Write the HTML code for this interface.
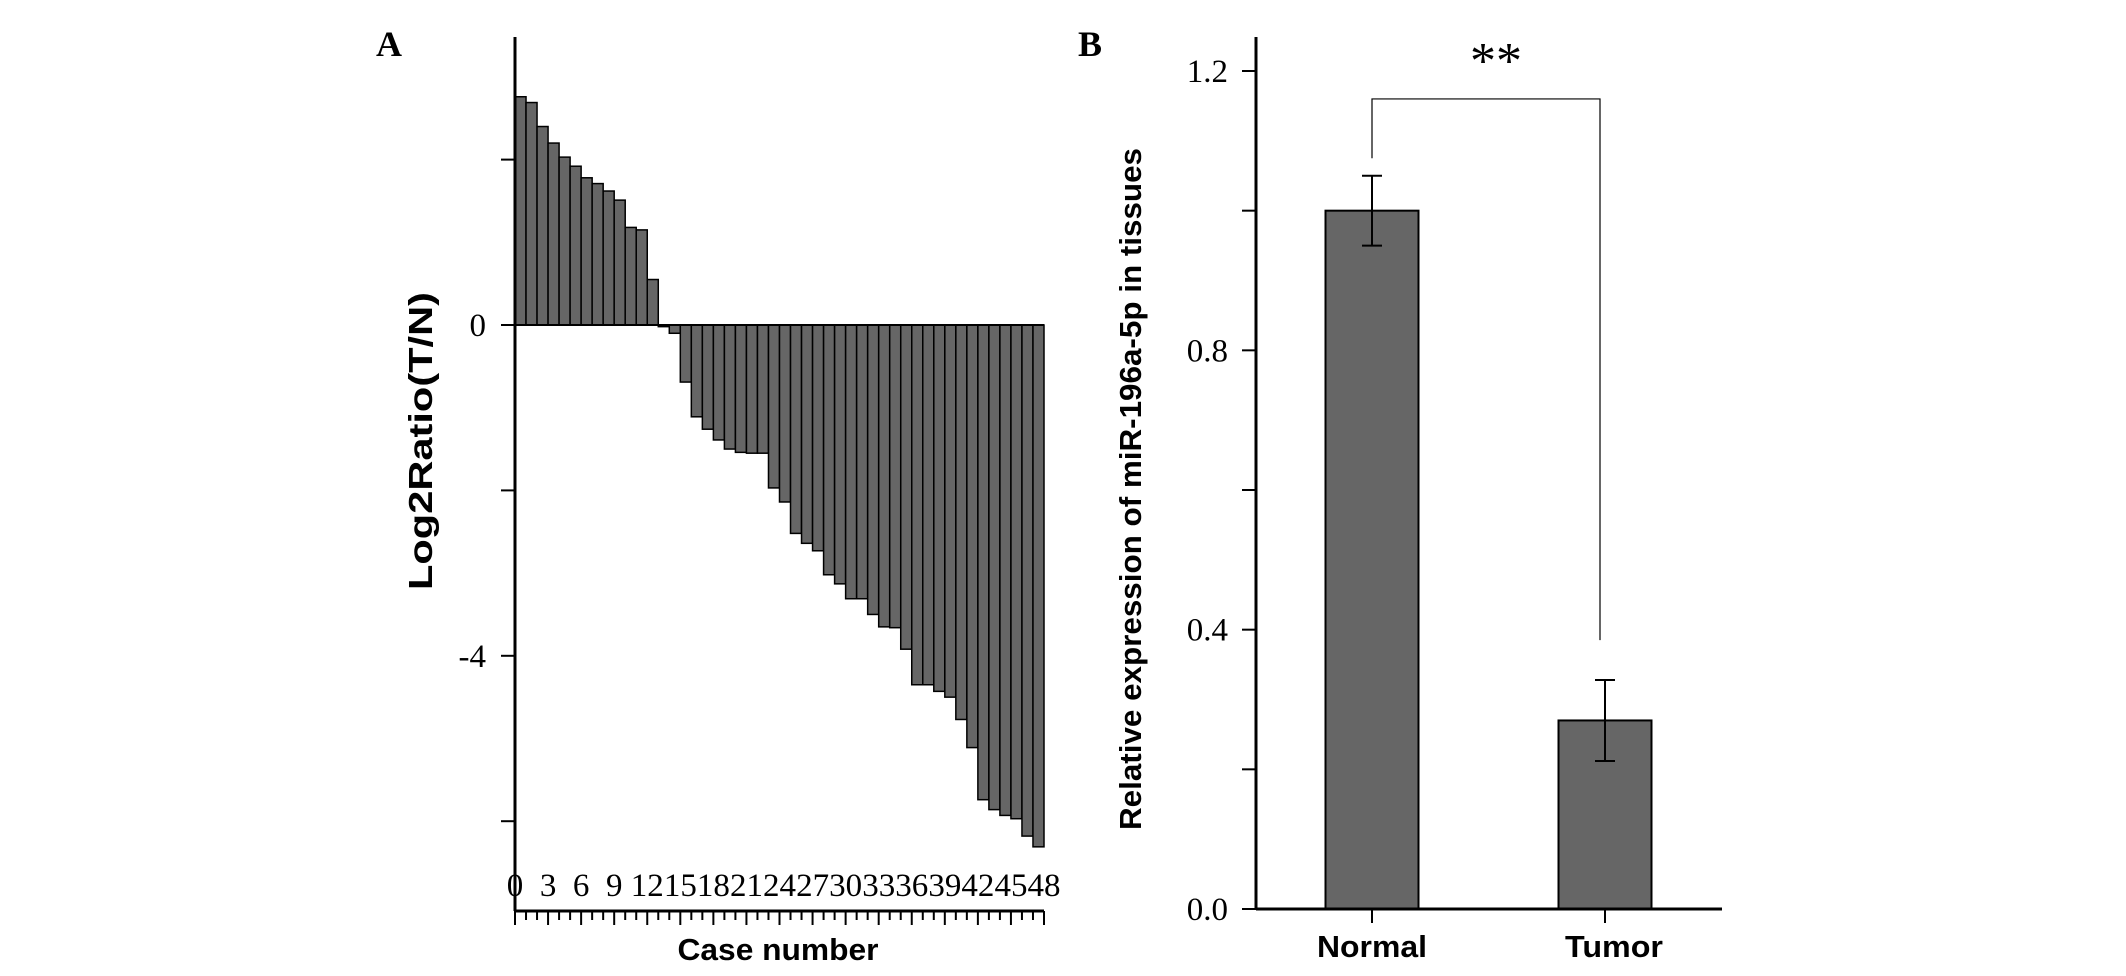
<!DOCTYPE html>
<html><head><meta charset="utf-8"><style>
html,body{margin:0;padding:0;background:#fff}
svg{display:block}
.serif{font-family:"Liberation Serif",serif}
.sans{font-family:"Liberation Sans",sans-serif;font-weight:bold}
</style></head><body>
<svg id="chart" width="2126" height="976" viewBox="0 0 2126 976" xmlns="http://www.w3.org/2000/svg">
<g id="panelA"></g>
<g id="panelB"></g>
</svg>
<script>
const caseValues = [2.76,2.69,2.40,2.20,2.03,1.92,1.78,1.71,1.62,1.51,1.18,1.15,0.55,-0.02,-0.1,-0.69,-1.11,-1.26,-1.39,-1.5,-1.54,-1.55,-1.55,-1.97,-2.14,-2.52,-2.64,-2.73,-3.02,-3.13,-3.31,-3.31,-3.5,-3.65,-3.66,-3.92,-4.35,-4.35,-4.43,-4.5,-4.77,-5.11,-5.74,-5.86,-5.93,-5.97,-6.18,-6.31];
const caseTickLabels = [0,3,6,9,12,15,18,21,24,27,30,33,36,39,42,45,48];
const ratioTickLabels = ["0","-4"];
const ratioTicks = [2,0,-2,-4,-6];
const groups = ["Normal","Tumor"];
const groupMeans = [1.0,0.27];
const groupErrors = [0.05,0.058];
const exprTicks = [0,0.2,0.4,0.6,0.8,1.0,1.2];
const exprTickLabels = ["0.0","0.4","0.8","1.2"];

const NS="http://www.w3.org/2000/svg";
function mk(parent,tag,attrs,text){const e=document.createElementNS(NS,tag);for(const k in attrs)e.setAttribute(k,attrs[k]);if(text!==undefined)e.textContent=text;parent.appendChild(e);return e;}

// Panel A
const A=document.getElementById('panelA');
const ax0=515, ax1=1044, yZero=325, unit=82.7, yAxisTop=37, xAxisY=911;
const xA=i=>ax0+(ax1-ax0)*i/caseValues.length;
const yA=v=>yZero-v*unit;
let t=mk(A,'text',{x:376,y:56,class:'serif','font-size':36,'font-weight':'bold'},'A');


caseValues.forEach((v,i)=>{
  const r=mk(A,'rect',{x:xA(i),y:Math.min(yA(v),yZero),width:xA(1)-xA(0),height:Math.abs(yA(v)-yZero),fill:'#666',stroke:'#000','stroke-width':1.5});
  
  
});
let l=mk(A,'line',{x1:ax0,y1:yZero,x2:ax1,y2:yZero,stroke:'#000','stroke-width':2});


l=mk(A,'line',{x1:ax0,y1:yAxisTop,x2:ax0,y2:xAxisY,stroke:'#000','stroke-width':3});


l=mk(A,'line',{x1:ax0,y1:xAxisY,x2:ax1,y2:xAxisY,stroke:'#000','stroke-width':3});


ratioTicks.forEach(v=>{
  const tk=mk(A,'line',{x1:ax0-14,y1:yA(v),x2:ax0,y2:yA(v),stroke:'#000','stroke-width':2});
  
  
});
ratioTickLabels.forEach(s=>{
  const tx=mk(A,'text',{x:ax0-29,y:yA(parseFloat(s))+11,'text-anchor':'end',class:'serif','font-size':33},s);
  
  
});
for(let i=0;i<=caseValues.length;i++){
  const tk=mk(A,'line',{x1:xA(i),y1:xAxisY,x2:xA(i),y2:xAxisY+(i%3===0?14:9),stroke:'#000','stroke-width':2});
  
  
}
caseTickLabels.forEach(c=>{
  const tx=mk(A,'text',{x:xA(c),y:896,'text-anchor':'middle',class:'serif','font-size':33},String(c));
  
  
});
t=mk(A,'text',{x:778,y:960,'text-anchor':'middle',class:'sans','font-size':31,textLength:201,lengthAdjust:'spacingAndGlyphs'},'Case number');


t=mk(A,'text',{x:0,y:0,'text-anchor':'middle',class:'sans','font-size':33,textLength:298,lengthAdjust:'spacingAndGlyphs',transform:'translate(432,441) rotate(-90)'},'Log2Ratio(T/N)');



// Panel B
const B=document.getElementById('panelB');
const bx0=1256,bx1=1722,bZero=909,bPer=(909-71)/1.2;
const yB=v=>bZero-v*bPer;
const centers=[1372,1605], bw=93;
t=mk(B,'text',{x:1078,y:56,class:'serif','font-size':36,'font-weight':'bold'},'B');


const tlen=[110,98];
groups.forEach((g,i)=>{
  const r=mk(B,'rect',{x:centers[i]-bw/2,y:yB(groupMeans[i]),width:bw,height:bZero-yB(groupMeans[i]),fill:'#666',stroke:'#000','stroke-width':2});
  
  
  const eg=mk(B,'path',{d:`M${centers[i]} ${yB(groupMeans[i]+groupErrors[i])}V${yB(groupMeans[i]-groupErrors[i])}M${centers[i]-10} ${yB(groupMeans[i]+groupErrors[i])}h20M${centers[i]-10} ${yB(groupMeans[i]-groupErrors[i])}h20`,stroke:'#000','stroke-width':2,fill:'none'});
  
  
  const tk=mk(B,'line',{x1:centers[i],y1:bZero,x2:centers[i],y2:bZero+14,stroke:'#000','stroke-width':2});
  
  
  const tx=mk(B,'text',{x:centers[i]+(i?9:0),y:957,'text-anchor':'middle',class:'sans','font-size':31,textLength:tlen[i],lengthAdjust:'spacingAndGlyphs'},g);
  
  
});
l=mk(B,'line',{x1:bx0,y1:37,x2:bx0,y2:bZero,stroke:'#000','stroke-width':3});


l=mk(B,'line',{x1:bx0,y1:bZero,x2:bx1,y2:bZero,stroke:'#000','stroke-width':3});


exprTicks.forEach(v=>{
  const tk=mk(B,'line',{x1:bx0-14,y1:yB(v),x2:bx0,y2:yB(v),stroke:'#000','stroke-width':2});
  
  
});
exprTickLabels.forEach(s=>{
  const tx=mk(B,'text',{x:bx0-28,y:yB(parseFloat(s))+11,'text-anchor':'end',class:'serif','font-size':33},s);
  
  
});
const br=mk(B,'path',{d:`M1372 ${yB(1.075)}V${yB(1.16)}H1600V${yB(0.385)}`,stroke:'#000','stroke-width':1.2,fill:'none'});


t=mk(B,'text',{x:1496,y:78,'text-anchor':'middle',class:'serif','font-size':52},'**');


t=mk(B,'text',{x:0,y:0,'text-anchor':'middle',class:'sans','font-size':31,textLength:682,lengthAdjust:'spacingAndGlyphs',transform:'translate(1141,489) rotate(-90)'},'Relative expression of miR-196a-5p in tissues');


</script>
</body></html>
